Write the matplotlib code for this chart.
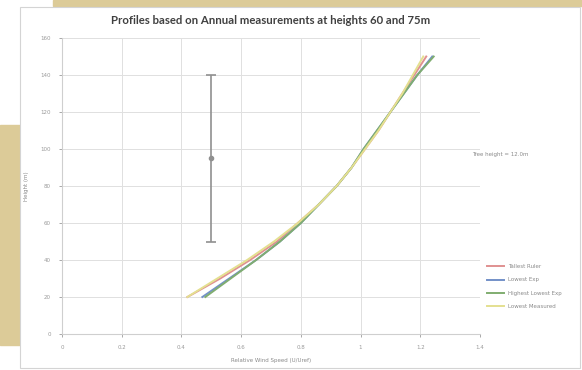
import matplotlib
matplotlib.use("Agg")
import matplotlib.pyplot as plt
from matplotlib.patches import Rectangle

# wind profiles, relative speed U/Uref against height
heights = [20, 30, 40, 50, 60, 70, 80, 90, 100, 110, 120, 130, 140, 150]
tallest_ruler = [0.42, 0.53, 0.63, 0.72, 0.79, 0.86, 0.92, 0.97, 1.015, 1.06, 1.10, 1.14, 1.18, 1.22]
lowest_exp = [0.47, 0.56, 0.65, 0.73, 0.80, 0.86, 0.92, 0.97, 1.01, 1.055, 1.10, 1.145, 1.19, 1.24]
highest_lowest_exp = [0.48, 0.565, 0.65, 0.73, 0.80, 0.86, 0.92, 0.97, 1.01, 1.055, 1.10, 1.145, 1.19, 1.245]
lowest_measured = [0.42, 0.52, 0.62, 0.71, 0.79, 0.86, 0.92, 0.97, 1.015, 1.06, 1.10, 1.14, 1.175, 1.21]

series_names = ["Tallest Ruler", "Lowest Exp", "Highest Lowest Exp", "Lowest Measured"]
series_colors = ["#e09090", "#7391c8", "#80ad70", "#e4e090"]

# measurement range bar
bar_x = 0.5
bar_mid = 95
bar_low = 50
bar_high = 140

x_ticks = [0, 0.2, 0.4, 0.6, 0.8, 1, 1.2, 1.4]
y_ticks = [0, 20, 40, 60, 80, 100, 120, 140, 160]

fig = plt.figure(figsize=(5.82, 3.70), dpi=100)
fig.patch.set_facecolor("white")

tan = "#dccb98"
fig.patches.append(Rectangle((53 / 582, 1 - 6 / 370), 529 / 582, 6 / 370,
                             transform=fig.transFigure, color=tan, zorder=-2))
fig.patches.append(Rectangle((0, 1 - 345 / 370), 20 / 582, 220 / 370,
                             transform=fig.transFigure, color=tan, zorder=-2))
fig.patches.append(Rectangle((20 / 582, 2 / 370), 560 / 582, 361 / 370,
                             transform=fig.transFigure, facecolor="white",
                             edgecolor="#d4d4d4", linewidth=0.8, zorder=-1))

ax = fig.add_axes([62 / 582, 1 - 334 / 370, 418 / 582, 296 / 370])
ax.set_zorder(1)
ax.set_facecolor("white")

for name, vals, col in zip(series_names,
                           [tallest_ruler, lowest_exp, highest_lowest_exp, lowest_measured],
                           series_colors):
    ax.plot(vals, heights, color=col, linewidth=1.4, label=name)

ax.errorbar([bar_x], [bar_mid], yerr=[[bar_mid - bar_low], [bar_high - bar_mid]],
            fmt="o", color="#909090", markersize=3, capsize=3.5, elinewidth=1.2,
            capthick=1.2)

ax.set_xlim(0, 1.4)
ax.set_ylim(0, 160)
ax.set_xticks(x_ticks)
ax.set_xticklabels(["0", "0.2", "0.4", "0.6", "0.8", "1", "1.2", "1.4"])
ax.set_yticks(y_ticks)
ax.grid(True, color="#e0e0e0", linewidth=0.7)
ax.set_axisbelow(True)
for sp in ax.spines.values():
    sp.set_color("#cfcfcf")
    sp.set_linewidth(0.8)
ax.spines["top"].set_visible(False)
ax.spines["right"].set_visible(False)
ax.tick_params(colors="#9a9a9a", labelsize=4, length=2, width=0.6, pad=6)

ax.set_title("Profiles based on Annual measurements at heights 60 and 75m",
             fontsize=8.2, fontweight="bold", color="#404040", family="Lato", pad=10)
ax.set_xlabel("Relative Wind Speed (U/Uref)", fontsize=4, color="#8a8a8a", labelpad=6)
ax.set_ylabel("Height (m)", fontsize=4, color="#8a8a8a", labelpad=8)

fig.text(472 / 582, 1 - 155 / 370, "Tree height = 12.0m", fontsize=4,
         color="#8a8a8a", va="center")

ax.legend(loc="center left", bbox_to_anchor=(1.005, 0.16), frameon=False,
          fontsize=4, handlelength=3, labelcolor="#8a8a8a", labelspacing=1.5)

fig.savefig("out.png", dpi=100)
